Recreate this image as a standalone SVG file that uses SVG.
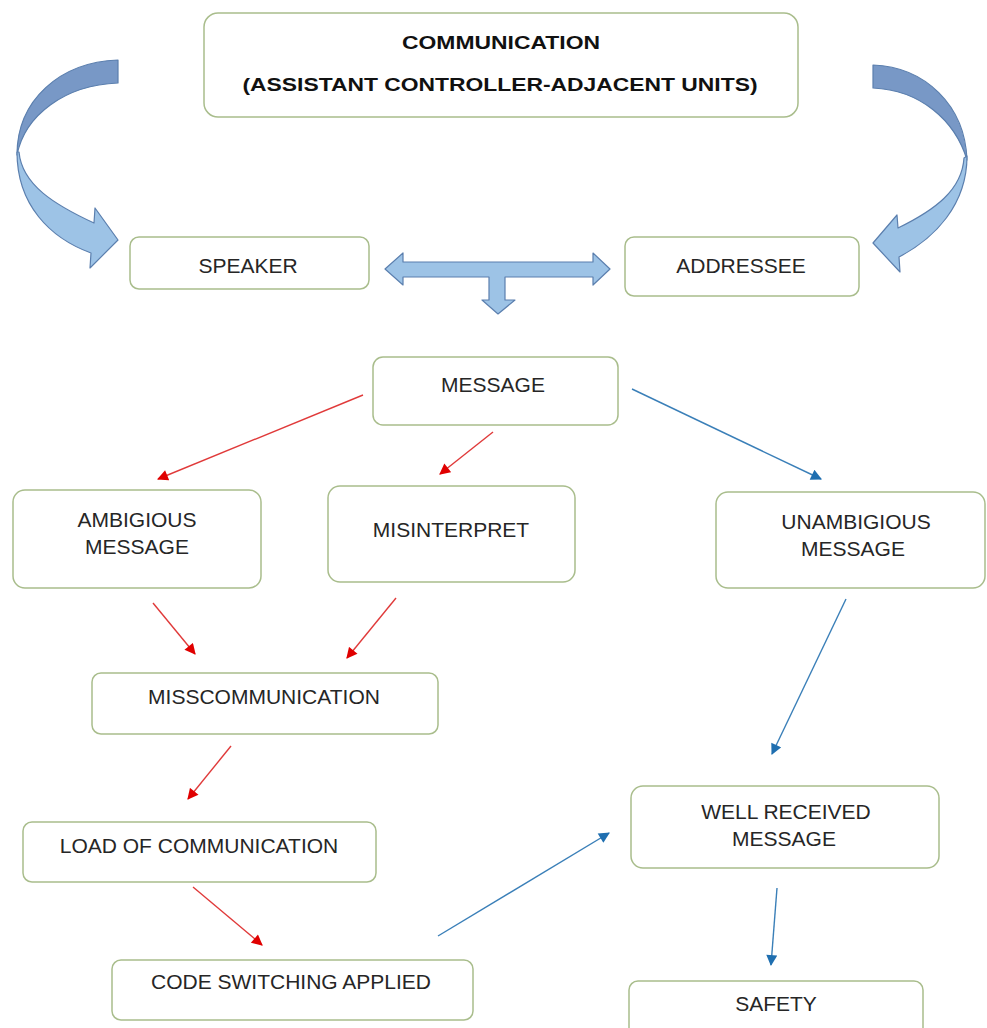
<svg xmlns="http://www.w3.org/2000/svg" width="987" height="1028" viewBox="0 0 987 1028">
<defs>
<style>
.box{fill:#ffffff;stroke:#a9bd8c;stroke-width:1.5}
.t{font-family:"Liberation Sans",Arial,sans-serif;font-size:21px;fill:#262626;text-anchor:middle}
.tb{font-family:"Liberation Sans",Arial,sans-serif;font-size:19px;font-weight:bold;fill:#111;text-anchor:middle}
.red{stroke:#e03a3a;stroke-width:1.4;fill:none;marker-end:url(#ar)}
.blue{stroke:#3a7fb8;stroke-width:1.4;fill:none;marker-end:url(#ab)}
.light{fill:#9dc3e6;stroke:#5b7fae;stroke-width:1.2;stroke-linejoin:round}
.dark{fill:#7898c6;stroke:#5b7fae;stroke-width:1.2;stroke-linejoin:round}
</style>
<marker id="ar" viewBox="0 0 10 10" refX="9" refY="5" markerWidth="12" markerHeight="11" markerUnits="userSpaceOnUse" orient="auto"><path d="M0,0 L10,5 L0,10 Z" fill="#e00000"/></marker>
<marker id="ab" viewBox="0 0 10 10" refX="9" refY="5" markerWidth="12" markerHeight="11" markerUnits="userSpaceOnUse" orient="auto"><path d="M0,0 L10,5 L0,10 Z" fill="#1f6fb0"/></marker>
</defs>
<rect width="987" height="1028" fill="#ffffff"/>

<g id="block-arrows">
<path class="dark" d="M118,60 C60,62 17,100 17,155 C25,115 65,85 118,83 Z"/>
<path class="light" d="M17,152 C17,205 50,238 91,253 L90,268 L118,240 L95,208 L94,223 C55,205 22,185 19,152 Z"/>
<path class="dark" d="M873,65 C925,67 965,105 967,160 C955,120 920,90 873,88 Z"/>
<path class="light" d="M967,156 C967,205 935,238 899,257 L900,272 L873,243 L897,215 L898,228 C935,210 962,190 964,158 Z"/>
<path class="light" d="M385,269 L403,253 L403,262 L593,262 L593,253 L610,269 L593,285 L593,277 L505,277 L505,300 L515,300 L498,314 L482,300 L489,300 L489,277 L403,277 L403,285 Z"/>
</g>

<g id="connectors">
<line class="red" x1="363" y1="395" x2="158" y2="479"/>
<line class="red" x1="493" y1="432" x2="440" y2="474"/>
<line class="blue" x1="632" y1="389" x2="821" y2="479"/>
<line class="red" x1="153" y1="603" x2="195" y2="654"/>
<line class="red" x1="396" y1="598" x2="347" y2="658"/>
<line class="red" x1="231" y1="746" x2="188" y2="799"/>
<line class="red" x1="193" y1="887" x2="262" y2="945"/>
<line class="blue" x1="438" y1="936" x2="609" y2="833"/>
<line class="blue" x1="846" y1="599" x2="772" y2="754"/>
<line class="blue" x1="777" y1="888" x2="771" y2="965"/>
</g>

<g id="node-communication">
<rect class="box" x="204" y="13" width="594" height="104" rx="14"/>
<text class="tb" x="501" y="49" textLength="198" lengthAdjust="spacingAndGlyphs">COMMUNICATION</text>
<text class="tb" x="500" y="91" textLength="515" lengthAdjust="spacingAndGlyphs">(ASSISTANT CONTROLLER-ADJACENT UNITS)</text>
</g>
<g id="node-speaker">
<rect class="box" x="130" y="237" width="239" height="52" rx="9"/>
<text class="t" x="248" y="273">SPEAKER</text>
</g>
<g id="node-addressee">
<rect class="box" x="625" y="237" width="234" height="59" rx="9"/>
<text class="t" x="741" y="273">ADDRESSEE</text>
</g>
<g id="node-message">
<rect class="box" x="373" y="357" width="245" height="68" rx="10"/>
<text class="t" x="493" y="392">MESSAGE</text>
</g>
<g id="node-ambigious">
<rect class="box" x="13" y="490" width="248" height="98" rx="12"/>
<text class="t" x="137" y="527">AMBIGIOUS</text>
<text class="t" x="137" y="554">MESSAGE</text>
</g>
<g id="node-misinterpret">
<rect class="box" x="328" y="486" width="247" height="96" rx="12"/>
<text class="t" x="451" y="537">MISINTERPRET</text>
</g>
<g id="node-unambigious">
<rect class="box" x="716" y="492" width="269" height="96" rx="12"/>
<text class="t" x="856" y="529">UNAMBIGIOUS</text>
<text class="t" x="853" y="556">MESSAGE</text>
</g>
<g id="node-misscommunication">
<rect class="box" x="92" y="673" width="346" height="61" rx="9"/>
<text class="t" x="264" y="704">MISSCOMMUNICATION</text>
</g>
<g id="node-load">
<rect class="box" x="23" y="822" width="353" height="60" rx="9"/>
<text class="t" x="199" y="853">LOAD OF COMMUNICATION</text>
</g>
<g id="node-code-switching">
<rect class="box" x="112" y="960" width="361" height="60" rx="9"/>
<text class="t" x="291" y="989">CODE SWITCHING APPLIED</text>
</g>
<g id="node-well-received">
<rect class="box" x="631" y="786" width="308" height="82" rx="12"/>
<text class="t" x="786" y="819">WELL RECEIVED</text>
<text class="t" x="784" y="846">MESSAGE</text>
</g>
<g id="node-safety">
<rect class="box" x="629" y="981" width="294" height="60" rx="9"/>
<text class="t" x="776" y="1011">SAFETY</text>
</g>
</svg>
